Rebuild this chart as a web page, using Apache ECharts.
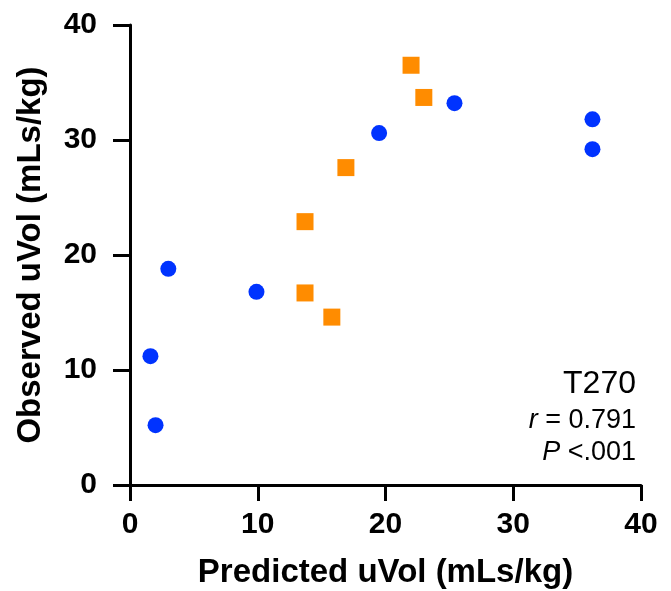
<!DOCTYPE html>
<html>
<head>
<meta charset="utf-8">
<script src="https://cdn.jsdelivr.net/npm/echarts@6/dist/echarts.min.js"></script>
<style>
html,body{margin:0;padding:0;background:#fff;}
#chart{width:671px;height:591px;}
</style>
</head>
<body>
<div id="chart"></div>
<script>
// Data
var blueX = [1.6, 2.0, 3.0, 9.9, 19.5, 25.4, 36.2, 36.2];
var blueY = [11.2, 5.2, 18.8, 16.8, 30.6, 33.2, 31.8, 29.2];
var orangeX = [22.0, 23.0, 16.9, 13.7, 13.7, 15.8];
var orangeY = [36.5, 33.7, 27.6, 22.9, 16.7, 14.6];
var xTicks = [0, 10, 20, 30, 40];
var yTicks = [0, 10, 20, 30, 40];
var xTitle = 'Predicted uVol (mLs/kg)';
var yTitle = 'Observed uVol (mLs/kg)';
var annotTitle = 'T270';
var annotR = '0.791';
var annotP = '<.001';

function pairs(xs, ys){ return xs.map(function(v,i){ return [v, ys[i]]; }); }

var FONT = '"Liberation Sans", Arial, Helvetica, sans-serif';
var chart = echarts.init(document.getElementById('chart'), null, {renderer:'canvas'});
var axisLineStyle = {color:'#000', width:3};
chart.setOption({
  animation:false,
  backgroundColor:'#fff',
  grid:{left:130, right:30, top:25, bottom:106, containLabel:false, outerBoundsMode:'none'},
  xAxis:{
    type:'value', min:xTicks[0], max:xTicks[xTicks.length-1], interval:10,
    name:xTitle, nameLocation:'middle', nameGap:71,
    nameTextStyle:{fontFamily:FONT, fontWeight:'bold', fontSize:33, color:'#000'},
    axisLine:{show:true, onZero:false, lineStyle:axisLineStyle},
    axisTick:{show:true, length:16, lineStyle:axisLineStyle},
    axisLabel:{fontFamily:FONT, fontWeight:'bold', fontSize:30, color:'#000', margin:25},
    splitLine:{show:false}
  },
  yAxis:{
    type:'value', min:yTicks[0], max:yTicks[yTicks.length-1], interval:10,
    name:yTitle, nameLocation:'middle', nameGap:83, nameRotate:90,
    nameTextStyle:{fontFamily:FONT, fontWeight:'bold', fontSize:33, color:'#000'},
    axisLine:{show:true, onZero:false, lineStyle:axisLineStyle},
    axisTick:{show:true, length:17, lineStyle:axisLineStyle},
    axisLabel:{fontFamily:FONT, fontWeight:'bold', fontSize:30, color:'#000', margin:33},
    splitLine:{show:false}
  },
  series:[
    {type:'scatter', data:pairs(blueX, blueY), symbol:'circle', symbolSize:16,
     itemStyle:{color:'#0033ff', opacity:1}, z:3},
    {type:'scatter', data:pairs(orangeX, orangeY), symbol:'rect', symbolSize:17,
     itemStyle:{color:'#ff8c00', opacity:1}, z:3}
  ],
  graphic:[
    {type:'text', right:35, top:368, style:{text:annotTitle, font:'32px '+FONT, fill:'#000', textAlign:'right'}},
    {type:'text', right:35, top:407, style:{
      text:'{i|r} = '+annotR,
      rich:{i:{fontStyle:'italic', fontSize:27, fontFamily:FONT, fill:'#000'}},
      font:'27px '+FONT, fill:'#000'}},
    {type:'text', right:35, top:439, style:{
      text:'{i|P} '+annotP,
      rich:{i:{fontStyle:'italic', fontSize:27, fontFamily:FONT, fill:'#000'}},
      font:'27px '+FONT, fill:'#000'}}
  ]
});
</script>
</body>
</html>
